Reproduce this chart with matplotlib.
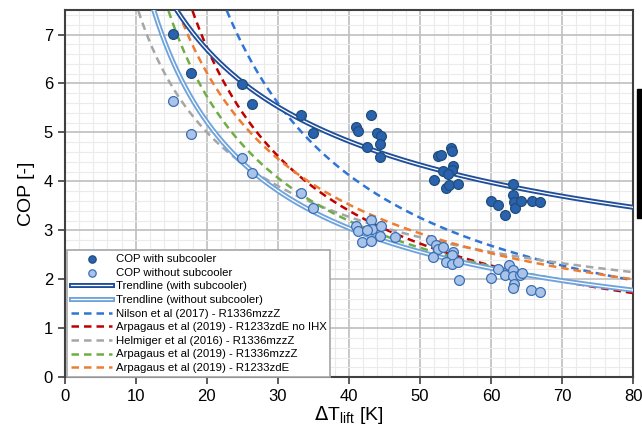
import matplotlib
matplotlib.use("Agg")
import matplotlib.pyplot as plt
import matplotlib.patheffects as pe
import numpy as np
from matplotlib.patches import Rectangle
from matplotlib.ticker import MultipleLocator

plt.rcParams["font.family"] = ["Liberation Sans", "DejaVu Sans"]

# %%
# Datos
dt_con = [15.2, 17.7, 24.9, 26.4, 33.2, 34.9,
          41.0, 41.3, 43.1, 44.0, 44.5, 44.4, 42.6, 44.4,
          52.6, 53.0, 54.4, 54.5, 54.7, 54.5, 53.3, 54.0, 52.0, 53.7, 54.1, 55.4,
          63.1, 63.1, 63.2, 63.4, 60.0, 61.0, 62.0, 64.2, 65.8, 66.9]
cop_con = [7.01, 6.21, 5.99, 5.59, 5.35, 4.99,
           5.11, 5.02, 5.35, 4.99, 4.92, 4.77, 4.71, 4.50,
           4.51, 4.53, 4.68, 4.62, 4.31, 4.24, 4.22, 4.16, 4.02, 3.87, 3.93, 3.95,
           3.95, 3.72, 3.58, 3.46, 3.59, 3.51, 3.32, 3.59, 3.60, 3.58]

dt_sin = [15.2, 17.7, 24.9, 26.4, 33.2, 34.9,
          41.0, 41.3, 43.1, 43.2, 44.5, 44.4, 42.6, 41.9, 43.1, 46.5,
          51.5, 52.3, 52.5, 53.2, 54.7, 54.5, 51.9, 53.7, 54.5, 55.4, 55.5,
          60.0, 61.0, 62.0, 62.6, 63.1, 63.1, 63.3, 63.1, 64.1, 64.3, 65.7, 66.9]
cop_sin = [5.65, 4.97, 4.48, 4.18, 3.76, 3.46,
           3.08, 2.98, 3.22, 3.03, 3.08, 2.88, 3.01, 2.76, 2.78, 2.87,
           2.81, 2.69, 2.62, 2.66, 2.56, 2.49, 2.46, 2.35, 2.32, 2.35, 1.98,
           2.02, 2.20, 2.09, 2.29, 2.18, 2.06, 1.91, 1.82, 2.08, 2.13, 1.79, 1.73]

# curvas de tendencia COP = a * dT^b
tend_con = [27.7, -0.474]
tend_sin = [53.3, -0.776]

# curvas de la literatura COP = a * dT^b
lit_nombres = ["Nilson et al (2017) - R1336mzzZ",
               "Arpagaus et al (2019) - R1233zdE no IHX",
               "Helmiger et al (2016) - R1336mzzZ",
               "Arpagaus et al (2019) - R1336mzzZ",
               "Arpagaus et al (2019) - R1233zdE"]
lit_a = [206.0, 129.2, 31.2, 72.1, 72.2]
lit_b = [-1.060, -0.986, -0.611, -0.845, -0.8185]
lit_colores = ["#2E75D6", "#C00000", "#A6A6A6", "#70AD47", "#ED7D31"]

# %%
# Gráfico
fig = plt.figure(figsize=(6.42, 4.38), dpi=100)
ax = fig.add_axes([0.101, 0.139, 0.885, 0.838])

x = np.linspace(5, 80, 400)

ax.scatter(dt_con, cop_con, s=50, color="#2A62B0", edgecolor="#1F4E79",
           linewidth=0.9, zorder=5, label="COP with subcooler")
ax.scatter(dt_sin, cop_sin, s=50, color="#A9C4E8", edgecolor="#3A6FB5",
           linewidth=0.9, zorder=5, label="COP without subcooler")

ax.plot(x, tend_con[0] * x ** tend_con[1], color="white", lw=0.9, zorder=4,
        path_effects=[pe.Stroke(linewidth=3.6, foreground="#1F4E9A"), pe.Normal()],
        label="Trendline (with subcooler)")
ax.plot(x, tend_sin[0] * x ** tend_sin[1], color="white", lw=0.9, zorder=4,
        path_effects=[pe.Stroke(linewidth=3.6, foreground="#6FA3DC"), pe.Normal()],
        label="Trendline (without subcooler)")

for nombre, a, b, c in zip(lit_nombres, lit_a, lit_b, lit_colores):
    ax.plot(x, a * x ** b, color=c, lw=1.8, dashes=(3, 2), zorder=3, label=nombre)

ax.set_xlim(0, 80)
ax.set_ylim(0, 7.5)
ax.xaxis.set_major_locator(MultipleLocator(10))
ax.xaxis.set_minor_locator(MultipleLocator(2))
ax.yaxis.set_major_locator(MultipleLocator(1))
ax.yaxis.set_minor_locator(MultipleLocator(0.2))
ax.grid(which="major", color="#BFBFBF", lw=1.2)
ax.grid(which="minor", color="#EBEBEB", lw=0.8)
ax.set_axisbelow(True)
ax.tick_params(which="minor", length=0)
ax.tick_params(which="major", labelsize=12, length=5, width=1.2, color="#404040")
for s in ax.spines.values():
    s.set_color("#404040")
    s.set_linewidth(1.5)

ax.set_xlabel(r"$\Delta$T$_{\mathregular{lift}}$ [K]", fontsize=14, labelpad=0)
ax.set_ylabel("COP [-]", fontsize=14, labelpad=6)

leg = ax.legend(loc="lower left", bbox_to_anchor=(0.004, 0.0), fontsize=8.2,
                handlelength=3.6, framealpha=1, fancybox=False,
                edgecolor="#A6A6A6", borderpad=0.35, labelspacing=0.32,
                handletextpad=0.3, borderaxespad=0.0, markerscale=0.75)
leg.get_frame().set_linewidth(1.2)

fig.patches.append(Rectangle((637, 220), 5, 129, transform=None,
                             color="black", zorder=10))

fig.savefig("out.png", dpi=100)
